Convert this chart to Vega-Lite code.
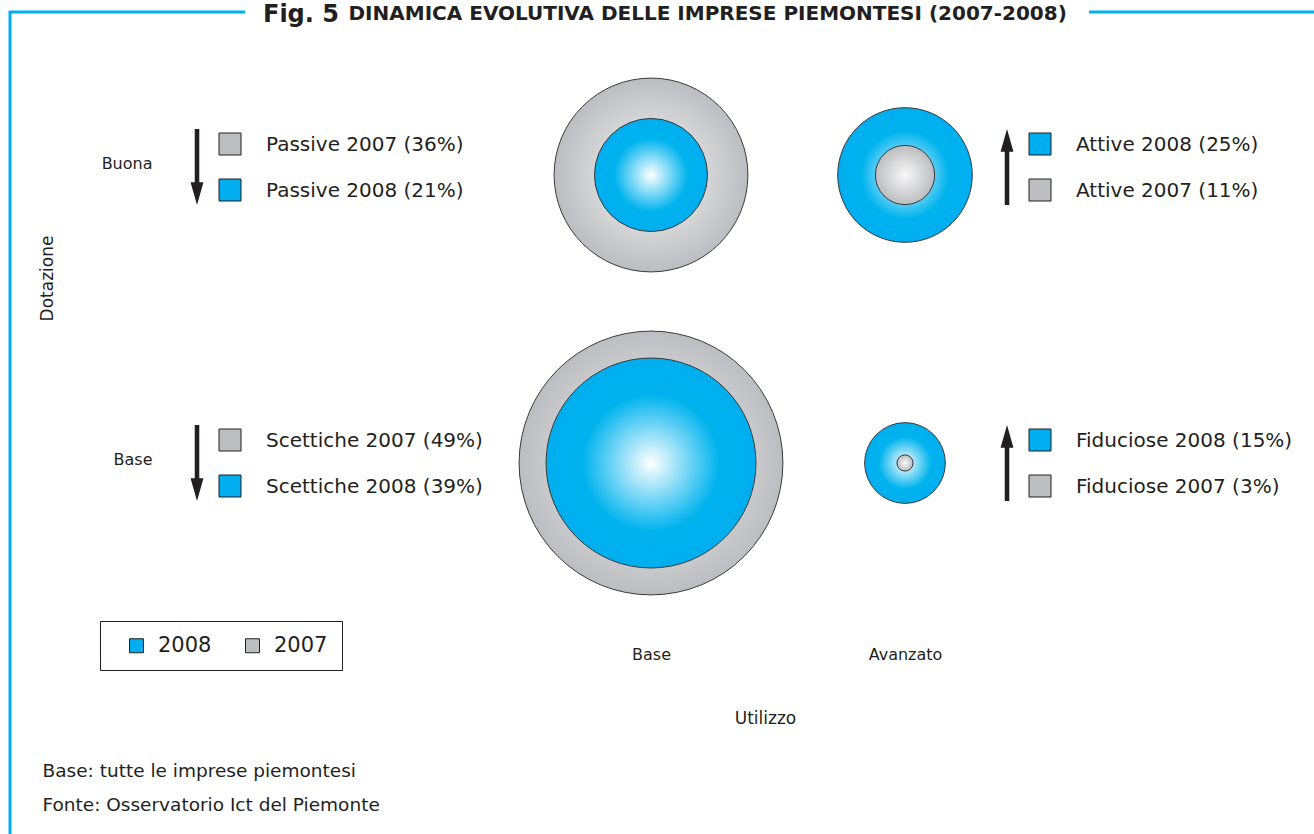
{
  "$schema": "https://vega.github.io/schema/vega-lite/v6.json",
  "autosize": {"type": "none"},
  "width": 1304,
  "height": 822,
  "padding": {"left": 10, "top": 12, "right": 0, "bottom": 0},
  "background": "white",
  "title": {
    "text": "Fig. 5",
    "anchor": "start",
    "frame": "group",
    "orient": "top",
    "offset": 0,
    "dx": 253,
    "dy": 43,
    "baseline": "alphabetic",
    "font": "DejaVu Sans",
    "fontSize": 24,
    "fontWeight": "bold",
    "color": "#231f20"
  },
  "config": {
    "view": {"stroke": "#00aeef", "strokeWidth": 3, "strokeDash": [235, 844, 225, 2126, 822]},
    "axis": {
      "domain": false, "ticks": false, "grid": false,
      "labelFont": "DejaVu Sans", "labelFontSize": 16, "labelColor": "#231f20",
      "titleFont": "DejaVu Sans", "titleFontSize": 17, "titleFontWeight": "normal", "titleColor": "#231f20"
    },
    "text": {"font": "DejaVu Sans"}
  },
  "data": {
    "values": [
      {"gruppo": "Passive", "utilizzo": "Base", "dotazione": "Buona", "anno": "2007", "pct": 36},
      {"gruppo": "Passive", "utilizzo": "Base", "dotazione": "Buona", "anno": "2008", "pct": 21},
      {"gruppo": "Attive", "utilizzo": "Avanzato", "dotazione": "Buona", "anno": "2007", "pct": 11},
      {"gruppo": "Attive", "utilizzo": "Avanzato", "dotazione": "Buona", "anno": "2008", "pct": 25},
      {"gruppo": "Scettiche", "utilizzo": "Base", "dotazione": "Base", "anno": "2007", "pct": 49},
      {"gruppo": "Scettiche", "utilizzo": "Base", "dotazione": "Base", "anno": "2008", "pct": 39},
      {"gruppo": "Fiduciose", "utilizzo": "Avanzato", "dotazione": "Base", "anno": "2007", "pct": 3},
      {"gruppo": "Fiduciose", "utilizzo": "Avanzato", "dotazione": "Base", "anno": "2008", "pct": 15}
    ]
  },
  "transform": [
    {"joinaggregate": [{"op": "max", "field": "pct", "as": "pmax"}], "groupby": ["gruppo"]},
    {"calculate": "datum.pct == datum.pmax ? 'esterno' : 'interno'", "as": "ruolo"},
    {"calculate": "datum.gruppo + ' ' + datum.anno + ' (' + datum.pct + '%)'", "as": "etichetta"}
  ],
  "resolve": {"axis": {"x": "independent", "y": "independent"}},
  "layer": [
    {
      "transform": [{"filter": "datum.ruolo == 'esterno' && datum.anno == '2007'"}],
      "mark": {"type": "point", "shape": "circle", "filled": true, "opacity": 1, "stroke": "#3a3a3a", "strokeWidth": 1,
        "yOffset": {"expr": "datum.dotazione == 'Buona' ? 8 : 0"},
        "fill": {"gradient": "radial", "x1": 0.5, "y1": 0.5, "r1": 0, "x2": 0.5, "y2": 0.5, "r2": 0.5,
          "stops": [{"offset": 0, "color": "#f8f8f8"}, {"offset": 1, "color": "#bcbdc0"}]}},
      "encoding": {
        "x": {"field": "utilizzo", "type": "nominal", "scale": {"type": "point", "domain": ["Base", "Avanzato"], "range": [641, 895], "padding": 0},
          "axis": {"orient": "bottom", "offset": -194, "labelPadding": 6, "labelAngle": 0, "title": "Utilizzo", "titleX": 755, "titleY": 78, "titleAlign": "center", "titleBaseline": "middle"}},
        "y": {"field": "dotazione", "type": "nominal", "scale": {"type": "point", "domain": ["Buona", "Base"], "range": [155, 451], "padding": 0},
          "axis": {"orient": "left", "offset": -150, "labelPadding": 8, "labelOffset": -4, "title": "Dotazione", "titleAngle": -90, "titleX": -113, "titleY": 266, "titleAlign": "center", "titleBaseline": "middle"}},
        "size": {"field": "pct", "type": "quantitative", "scale": {"type": "pow", "exponent": 2, "domain": [0, 50], "range": [0, 72469]}, "legend": null}
      }
    },
    {
      "transform": [{"filter": "datum.ruolo == 'esterno' && datum.anno == '2008'"}],
      "mark": {"type": "point", "shape": "circle", "filled": true, "opacity": 1, "stroke": "#3a3a3a", "strokeWidth": 1,
        "yOffset": {"expr": "datum.dotazione == 'Buona' ? 8 : 0"},
        "fill": {"gradient": "radial", "x1": 0.5, "y1": 0.5, "r1": 0, "x2": 0.5, "y2": 0.5, "r2": 0.5,
          "stops": [{"offset": 0, "color": "#ffffff"}, {"offset": 0.65, "color": "#00b3ee"}, {"offset": 1, "color": "#00aeef"}]}},
      "encoding": {
        "x": {"field": "utilizzo", "type": "nominal", "axis": null},
        "y": {"field": "dotazione", "type": "nominal", "axis": null},
        "size": {"field": "pct", "type": "quantitative", "legend": null}
      }
    },
    {
      "transform": [{"filter": "datum.ruolo == 'interno' && datum.anno == '2008'"}],
      "mark": {"type": "point", "shape": "circle", "filled": true, "opacity": 1, "stroke": "#3a3a3a", "strokeWidth": 1,
        "yOffset": {"expr": "datum.dotazione == 'Buona' ? 8 : 0"},
        "fill": {"gradient": "radial", "x1": 0.5, "y1": 0.5, "r1": 0, "x2": 0.5, "y2": 0.5, "r2": 0.5,
          "stops": [{"offset": 0, "color": "#ffffff"}, {"offset": 0.65, "color": "#00b3ee"}, {"offset": 1, "color": "#00aeef"}]}},
      "encoding": {
        "x": {"field": "utilizzo", "type": "nominal", "axis": null},
        "y": {"field": "dotazione", "type": "nominal", "axis": null},
        "size": {"field": "pct", "type": "quantitative", "legend": null}
      }
    },
    {
      "transform": [{"filter": "datum.ruolo == 'interno' && datum.anno == '2007'"}],
      "mark": {"type": "point", "shape": "circle", "filled": true, "opacity": 1, "stroke": "#3a3a3a", "strokeWidth": 1,
        "yOffset": {"expr": "datum.dotazione == 'Buona' ? 8 : 0"},
        "fill": {"gradient": "radial", "x1": 0.5, "y1": 0.5, "r1": 0, "x2": 0.5, "y2": 0.5, "r2": 0.5,
          "stops": [{"offset": 0, "color": "#f8f8f8"}, {"offset": 1, "color": "#bcbdc0"}]}},
      "encoding": {
        "x": {"field": "utilizzo", "type": "nominal", "axis": null},
        "y": {"field": "dotazione", "type": "nominal", "axis": null},
        "size": {"field": "pct", "type": "quantitative", "legend": null}
      }
    },
    {
      "mark": {"type": "point", "shape": "square", "filled": true, "opacity": 1, "size": 484, "stroke": "#231f20", "strokeWidth": 1,
        "xOffset": {"expr": "datum.utilizzo == 'Base' ? -421 : 135"},
        "yOffset": {"expr": "datum.ruolo == 'esterno' ? -23 : 23"}},
      "encoding": {
        "x": {"field": "utilizzo", "type": "nominal", "axis": null},
        "y": {"field": "dotazione", "type": "nominal",
          "axis": {"orient": "right", "labels": false, "title": ["Base: tutte le imprese piemontesi", "Fonte: Osservatorio Ict del Piemonte"],
            "titleAngle": 0, "titleAlign": "left", "titleBaseline": "alphabetic", "titleX": -1272, "titleY": 764, "titleLineHeight": 34, "titleFontSize": 18.5}},
        "fill": {"field": "anno", "type": "nominal", "scale": {"domain": ["2008", "2007"], "range": ["#00aeef", "#bcbec0"]},
          "legend": {"title": null, "orient": "none", "legendX": 90, "legendY": 609, "direction": "horizontal",
            "padding": 14, "strokeColor": "#231f20", "columnPadding": 18, "symbolOffset": 12, "labelOffset": 11,
            "symbolType": "square", "symbolSize": 196, "symbolStrokeColor": "#231f20", "symbolStrokeWidth": 1,
            "labelFont": "DejaVu Sans", "labelFontSize": 21, "labelColor": "#231f20"}}
      }
    },
    {
      "mark": {"type": "text", "align": "left", "baseline": "middle", "dy": 1, "fontSize": 20, "font": "DejaVu Sans", "fill": "#231f20",
        "xOffset": {"expr": "datum.utilizzo == 'Base' ? -385 : 171"},
        "yOffset": {"expr": "datum.ruolo == 'esterno' ? -23 : 23"}},
      "encoding": {
        "x": {"field": "utilizzo", "type": "nominal",
          "axis": {"orient": "top", "labels": false, "title": "DINAMICA EVOLUTIVA DELLE IMPRESE PIEMONTESI (2007-2008)",
            "titleX": 338, "titleY": 7, "titleAlign": "left", "titleBaseline": "alphabetic", "titleFontSize": 20, "titleFontWeight": "bold"}},
        "y": {"field": "dotazione", "type": "nominal", "axis": null},
        "text": {"field": "etichetta", "type": "nominal"}
      }
    },
    {
      "transform": [
        {"pivot": "anno", "value": "pct", "groupby": ["gruppo", "utilizzo", "dotazione"]},
        {"calculate": "datum['2008'] > datum['2007'] ? 'crescita' : 'calo'", "as": "verso"}
      ],
      "mark": {"type": "point", "filled": true, "opacity": 1, "size": 5776, "fill": "#231f20", "strokeWidth": 0,
        "xOffset": {"expr": "datum.utilizzo == 'Base' ? -421 : 135"}},
      "encoding": {
        "x": {"field": "utilizzo", "type": "nominal", "axis": null},
        "y": {"field": "dotazione", "type": "nominal", "axis": null},
        "shape": {"field": "verso", "type": "nominal", "legend": null,
          "scale": {"domain": ["calo", "crescita"], "range": [
            "M-0.928,-1L-0.808,-1L-0.808,0.4L-0.698,0.4L-0.868,1L-1.038,0.4L-0.928,0.4Z",
            "M-0.928,1L-0.808,1L-0.808,-0.4L-0.698,-0.4L-0.868,-1L-1.038,-0.4L-0.928,-0.4Z"]}}
      }
    }
  ]
}
